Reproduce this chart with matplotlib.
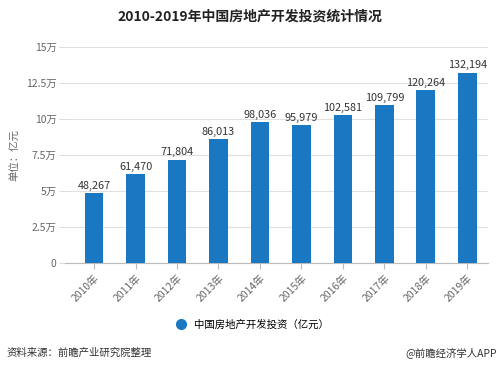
import matplotlib
matplotlib.use("Agg")
import matplotlib.pyplot as plt
from matplotlib.lines import Line2D

plt.rcParams['font.family'] = ['Noto Sans CJK SC', 'DejaVu Sans']

years = ["2010年", "2011年", "2012年", "2013年", "2014年", "2015年", "2016年", "2017年", "2018年", "2019年"]
values = [48267, 61470, 71804, 86013, 98036, 95979, 102581, 109799, 120264, 132194]
yticks = [0, 25000, 50000, 75000, 100000, 125000, 150000]
ytick_labels = ["0", "2.5万", "5万", "7.5万", "10万", "12.5万", "15万"]

bar_color = "#1a78c2"
grey = "#666666"

fig = plt.figure(figsize=(4.99, 3.70), dpi=100)
ax = fig.add_axes([65 / 499, 1 - 263 / 370, (488 - 65) / 499, (263 - 47) / 370])

x = list(range(len(years)))
ax.bar(x, values, width=0.45, color=bar_color, zorder=3)
for xi, v in zip(x, values):
    ax.text(xi, v + 1500, f"{v:,}", ha="center", va="bottom", fontsize=7.8, color="#333333")

ax.set_xlim(-0.7, 9.5)
ax.set_ylim(0, 150000)
ax.set_yticks(yticks)
ax.set_yticklabels(ytick_labels, fontsize=7.5, color=grey)
ax.set_xticks(x)
ax.set_xticklabels(years, rotation=45, ha="right", rotation_mode="anchor", fontsize=7.5, color=grey)
ax.tick_params(axis="y", length=4, color="#dddddd", pad=2)
ax.tick_params(axis="x", length=4, color="#bbbbbb", pad=3)
ax.grid(axis="y", color="#e0e0e0", linewidth=0.8, zorder=0)
for s in ["top", "right", "left"]:
    ax.spines[s].set_visible(False)
ax.spines["bottom"].set_color("#bbbbbb")

fig.text(15 / 499, 1 - 155 / 370, "单位：亿元", rotation=90, ha="center", va="center", fontsize=7.5, color=grey)
fig.text(0.5, 1 - 17 / 370, "2010-2019年中国房地产开发投资统计情况", ha="center", va="center",
         fontsize=10, fontweight="bold", color="#222222")

handle = Line2D([], [], marker="o", linestyle="none", markersize=7, color=bar_color)
fig.legend([handle], ["中国房地产开发投资（亿元）"], loc="center", bbox_to_anchor=(0.5, 1 - 325 / 370),
           frameon=False, fontsize=7.5, handletextpad=0.3)

fig.text(7 / 499, 1 - 353 / 370, "资料来源：前瞻产业研究院整理", ha="left", va="center", fontsize=7.5, color="#333333")
fig.text(497 / 499, 1 - 353 / 370, "@前瞻经济学人APP", ha="right", va="center", fontsize=7.5, color="#333333")

fig.savefig("out.png", dpi=100)
